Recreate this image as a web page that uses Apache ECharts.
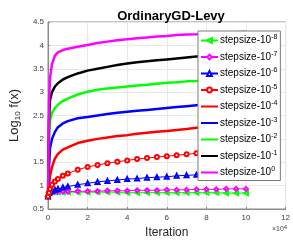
<!DOCTYPE html>
<html>
<head>
<meta charset="utf-8">
<script src="https://cdn.jsdelivr.net/npm/echarts@6/dist/echarts.min.js"></script>
<style>
  html, body { margin: 0; padding: 0; background: #fff; }
  #main { width: 293px; height: 245px; }
</style>
</head>
<body>
<div id="main"></div>
<script>
// iterations (raw), axis shows them in units of 1e4
var iters = [0, 500, 1000, 2000, 3500, 5000, 7500, 10000, 15000, 20000, 25000, 30000, 35000, 40000, 45000,
  50000, 55000, 60000, 65000, 70000, 75000, 80000, 85000, 90000, 95000, 100000];

var exps = ['-8', '-7', '-6', '-5', '-4', '-3', '-2', '-1', '0'];

var s_m8 = [0.77, 0.86, 0.86, 0.86, 0.86, 0.86, 0.86, 0.86, 0.86, 0.86, 0.86, 0.86, 0.86, 0.85, 0.85, 0.85, 0.85, 0.85, 0.85, 0.85, 0.85, 0.85, 0.85, 0.84, 0.84, 0.84];
var s_m7 = [0.77, 0.86, 0.86, 0.87, 0.87, 0.87, 0.87, 0.87, 0.88, 0.88, 0.88, 0.89, 0.89, 0.89, 0.90, 0.90, 0.90, 0.91, 0.91, 0.91, 0.92, 0.92, 0.92, 0.93, 0.93, 0.93];
var s_m6 = [0.77, 0.84, 0.87, 0.89, 0.91, 0.93, 0.96, 0.98, 1.02, 1.05, 1.08, 1.10, 1.12, 1.14, 1.15, 1.17, 1.18, 1.19, 1.21, 1.22, 1.23, 1.24, 1.25, 1.26, 1.27, 1.28];
var s_m5 = [0.77, 0.85, 0.93, 1.02, 1.09, 1.14, 1.21, 1.26, 1.34, 1.40, 1.44, 1.48, 1.51, 1.54, 1.57, 1.59, 1.61, 1.63, 1.65, 1.67, 1.69, 1.71, 1.73, 1.74, 1.76, 1.77];
var s_m4 = [0.77, 1.00, 1.20, 1.40, 1.58, 1.68, 1.77, 1.82, 1.91, 1.96, 2.00, 2.03, 2.06, 2.08, 2.11, 2.13, 2.15, 2.17, 2.19, 2.21, 2.24, 2.25, 2.27, 2.28, 2.30, 2.31];
var s_m3 = [0.77, 1.40, 1.80, 2.00, 2.15, 2.25, 2.33, 2.38, 2.44, 2.47, 2.50, 2.53, 2.56, 2.58, 2.60, 2.62, 2.64, 2.66, 2.68, 2.70, 2.72, 2.74, 2.75, 2.77, 2.78, 2.80];
var s_m2 = [0.77, 1.90, 2.40, 2.55, 2.66, 2.73, 2.81, 2.86, 2.95, 3.01, 3.05, 3.08, 3.10, 3.12, 3.14, 3.16, 3.18, 3.20, 3.21, 3.23, 3.24, 3.26, 3.27, 3.28, 3.29, 3.30];
var s_m1 = [0.77, 2.40, 2.83, 3.00, 3.12, 3.19, 3.27, 3.32, 3.40, 3.46, 3.50, 3.54, 3.58, 3.61, 3.64, 3.66, 3.68, 3.70, 3.72, 3.74, 3.76, 3.78, 3.79, 3.81, 3.82, 3.84];
var s_0 = [0.77, 2.80, 3.30, 3.60, 3.78, 3.85, 3.90, 3.93, 3.97, 4.01, 4.05, 4.08, 4.11, 4.13, 4.15, 4.17, 4.19, 4.20, 4.22, 4.23, 4.24, 4.26, 4.27, 4.28, 4.28, 4.29];

var xTicks = [0, 20000, 40000, 60000, 80000, 100000, 120000];
var yTicks = [0.5, 1, 1.5, 2, 2.5, 3, 3.5, 4, 4.5];

function pairs(ys) {
  var out = [];
  for (var i = 0; i < ys.length; i++) out.push([iters[i], ys[i]]);
  return out;
}

var chart = echarts.init(document.getElementById('main'), null, { renderer: 'canvas' });

var styles = [
  { data: s_m8, color: '#00ff00', symbol: 'emptyTriangle', rot: 90, w: 1 },
  { data: s_m7, color: '#ff00ff', symbol: 'emptyDiamond', rot: 0, w: 1 },
  { data: s_m6, color: '#0000ff', symbol: 'emptyTriangle', rot: 0, w: 1 },
  { data: s_m5, color: '#ff0000', symbol: 'emptyCircle', rot: 0, w: 1 },
  { data: s_m4, color: '#ff0000', symbol: 'none', rot: 0, w: 2.5 },
  { data: s_m3, color: '#0000ff', symbol: 'none', rot: 0, w: 2.5 },
  { data: s_m2, color: '#00ff00', symbol: 'none', rot: 0, w: 2.5 },
  { data: s_m1, color: '#000000', symbol: 'none', rot: 0, w: 2.5 },
  { data: s_0, color: '#ff00ff', symbol: 'none', rot: 0, w: 2.5 }
];

var series = styles.map(function (s, i) {
  return {
    name: 'stepsize-10^' + exps[i],
    type: 'line',
    data: pairs(s.data),
    symbol: s.symbol,
    symbolSize: 4,
    symbolRotate: s.rot,
    showAllSymbol: true,
    color: s.color,
    lineStyle: { width: s.w, color: s.color },
    itemStyle: { color: s.color, borderColor: s.color, borderWidth: 0.8 },
    animation: false
  };
});

// legend entries: thick lines show only the line, no marker
var legendData = styles.map(function (s, i) {
  var item = { name: series[i].name };
  if (s.symbol === 'none') item.itemStyle = { opacity: 0 };
  return item;
});

var axisCol = '#404040';

var option = {
  backgroundColor: '#fff',
  title: {
    text: 'OrdinaryGD-Levy',
    left: 166,
    textAlign: 'center',
    top: 5,
    textStyle: { fontFamily: 'Liberation Sans', fontSize: 13, fontWeight: 'bold', color: '#000' }
  },
  legend: {
    orient: 'vertical',
    left: 198,
    top: 31,
    width: 85,
    padding: [3, 3, 3, 2],
    itemWidth: 17,
    itemHeight: 6,
    itemGap: 5,
    backgroundColor: '#fff',
    borderColor: '#7a7a7a',
    borderWidth: 1,
    data: legendData,
    formatter: function (name) {
      return 'stepsize-10{sup|' + name.split('^')[1] + '}';
    },
    textStyle: {
      fontFamily: 'Liberation Sans',
      fontSize: 10,
      color: '#000',
      padding: [0, 0, 0, -3],
      rich: {
        sup: { fontFamily: 'Liberation Sans', fontSize: 7, color: '#000', padding: [0, 0, 6, 0] }
      }
    }
  },
  grid: {
    left: 43, right: 6, top: 22, bottom: 36,
    show: true,
    borderColor: '#8a8a8a',
    borderWidth: 1
  },
  xAxis: {
    type: 'value',
    min: 0, max: 120000, interval: 20000,
    name: 'Iteration',
    nameLocation: 'middle',
    nameGap: 18,
    nameTextStyle: { fontFamily: 'Liberation Sans', fontSize: 12, color: '#262626' },
    axisLine: { show: true, onZero: false, lineStyle: { color: '#8a8a8a' } },
    axisTick: { show: true, inside: true, length: 2, lineStyle: { color: '#8a8a8a' } },
    axisLabel: {
      fontFamily: 'Liberation Sans', fontSize: 8, color: axisCol, margin: 5,
      formatter: function (v) { return xTicks.indexOf(v) >= 0 ? String(v / 10000) : ''; }
    },
    splitLine: { show: true, lineStyle: { color: '#e8e8e8' } }
  },
  yAxis: {
    type: 'value',
    min: 0.5, max: 4.5, interval: 0.5,
    name: 'Log{sub|10} f(x)',
    nameLocation: 'middle',
    nameRotate: 90,
    nameGap: 24,
    nameTextStyle: {
      fontFamily: 'Liberation Sans', fontSize: 13, color: '#262626',
      rich: { sub: { fontFamily: 'Liberation Sans', fontSize: 8, color: '#262626', padding: [7, 0, 0, 0] } }
    },
    axisLine: { show: true, lineStyle: { color: '#8a8a8a' } },
    axisTick: { show: true, inside: true, length: 2, lineStyle: { color: '#8a8a8a' } },
    axisLabel: {
      fontFamily: 'Liberation Sans', fontSize: 8, color: axisCol, margin: 4,
      formatter: function (v) { return yTicks.indexOf(v) >= 0 ? String(v) : ''; }
    },
    splitLine: { show: true, lineStyle: { color: '#e8e8e8' } }
  },
  graphic: [{
    type: 'text',
    left: 272,
    top: 224,
    style: {
      text: '×10{sup|4}',
      fontFamily: 'Liberation Sans',
      fontSize: 7,
      fill: axisCol,
      rich: { sup: { fontSize: 6, fill: axisCol, padding: [0, 0, 5, 0] } }
    }
  }],
  series: series
};

chart.setOption(option);
</script>
</body>
</html>
